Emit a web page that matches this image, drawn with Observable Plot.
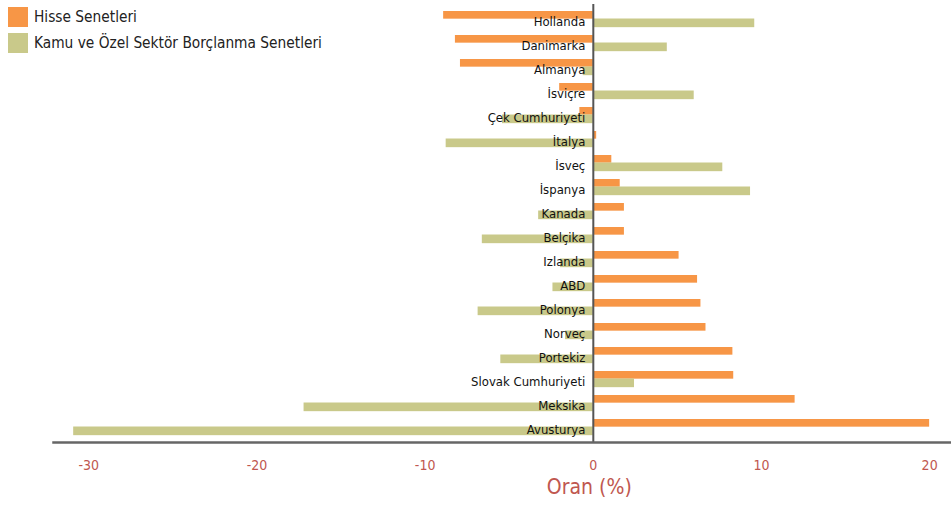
<!DOCTYPE html>
<html>
<head>
<meta charset="utf-8">
<script src="https://cdn.jsdelivr.net/npm/d3@7"></script>
<script src="https://cdn.jsdelivr.net/npm/@observablehq/plot@0.6"></script>
<style>
  html, body { margin: 0; padding: 0; background: #fff; }
  #wrap { position: relative; width: 951px; height: 507px; font-family: "DejaVu Sans Condensed", "Liberation Sans Narrow", "DejaVu Sans", sans-serif; }
  #chart svg { display: block; }
  #legend { position: absolute; left: 8px; top: 7px; font-size: 15.3px; color: #222; }
  .item { display: flex; align-items: center; height: 20px; margin-bottom: 6px; }
  .sw { width: 20px; height: 20px; margin-right: 6px; }
</style>
</head>
<body>
<div id="wrap"><div id="chart"></div><div id="legend"></div></div>
<script>
const countries = ["Hollanda","Danimarka","Almanya","İsviçre","Çek Cumhuriyeti","İtalya","İsveç","İspanya","Kanada","Belçika","Izlanda","ABD","Polonya","Norveç","Portekiz","Slovak Cumhuriyeti","Meksika","Avusturya"];
const hisse = [-8.9,-8.2,-7.9,-2.0,-0.8,0.2,1.1,1.6,1.85,1.85,5.1,6.2,6.4,6.7,8.3,8.35,12.0,20.0];
const kamu  = [9.6,4.4,-0.6,6.0,-5.4,-8.75,7.7,9.35,-3.25,-6.6,-1.95,-2.4,-6.85,-1.65,-5.5,2.45,-17.2,-30.9];
const seriesNames = ["Hisse Senetleri","Kamu ve Özel Sektör Borçlanma Senetleri"];
const seriesColors = ["#f79646","#c9c98a"];
const xTicks = [-30,-20,-10,0,10,20];
const axisTitle = "Oran (%)";

const hisseData = countries.map((c,i)=>({country:c, value:hisse[i]}));
const kamuData = countries.map((c,i)=>({country:c, value:kamu[i]}));

const font = '"DejaVu Sans Condensed", "Liberation Sans Narrow", "DejaVu Sans", sans-serif';
const band = (442-4)/countries.length;

const chart = Plot.plot({
  width: 951,
  height: 507,
  marginTop: 4,
  marginBottom: 65,
  marginLeft: 53,
  marginRight: 0,
  style: {fontFamily: font, background: "#fff"},
  x: {domain: [-32.1, 21.3]},
  y: {domain: countries, padding: 0, axis: null},
  marks: [
    Plot.barX(hisseData, {x: "value", y: "country", fill: seriesColors[0], insetTop: 4, insetBottom: band - 12}),
    Plot.barX(kamuData, {x: "value", y: "country", fill: seriesColors[1], insetTop: 11.5, insetBottom: band - 20.5}),
    Plot.text(countries, {x: 0, y: d => d, text: d => d, textAnchor: "end", dx: -8, dy: 2.5, fontSize: 13, fill: "#111"}),
    Plot.ruleX([0], {stroke: "#555", strokeWidth: 2}),
    Plot.frame({anchor: "bottom", stroke: "#666", strokeWidth: 2.5}),
    Plot.axisX({ticks: xTicks, tickSize: 0, tickPadding: 18, label: null, fontSize: 14, color: "#c0574f", tickFormat: d => String(d)}),
    Plot.text([axisTitle], {x: 0, frameAnchor: "bottom", dx: -4, dy: 51, fontSize: 21, fill: "#c0574f"})
  ]
});
document.getElementById("chart").appendChild(chart);

const legend = document.getElementById("legend");
seriesNames.forEach((n,i)=>{
  const it = document.createElement("div"); it.className = "item";
  const sw = document.createElement("div"); sw.className = "sw"; sw.style.background = seriesColors[i];
  const tx = document.createElement("span"); tx.textContent = n;
  it.appendChild(sw); it.appendChild(tx); legend.appendChild(it);
});
</script>
</body>
</html>
